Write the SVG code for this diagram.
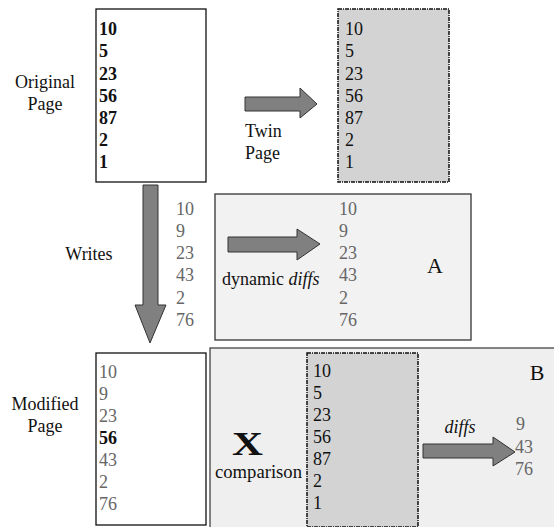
<svg xmlns="http://www.w3.org/2000/svg" width="554" height="527" viewBox="0 0 554 527">
<style>
text{font-family:"Liberation Serif","Times New Roman",serif;font-size:18px;fill:#111}
text.b,.b text{font-weight:bold}
text.g,.g text{fill:#666}
.i{font-style:italic}
.page{fill:#fff;stroke:#111;stroke-width:1.3}
.twin{fill:#d3d3d3;stroke:#111;stroke-width:1.5;stroke-dasharray:4 1 1 1}
.arrow{fill:#808080;stroke:#333;stroke-width:1}
text.big{font-size:22px}
</style>
<rect width="554" height="527" fill="#fff"/>

<g id="regionB">
<rect x="210" y="348" width="346" height="182" fill="#efefef" stroke="#444" stroke-width="1.3"/>
<text x="537" y="380" text-anchor="middle" class="big">B</text>
</g>

<g id="regionA">
<rect x="215" y="194" width="256" height="146" fill="#f2f2f2" stroke="#333" stroke-width="1.3"/>
<text x="435" y="273" text-anchor="middle" class="big">A</text>
<g class="g">
<text x="339" y="215">10</text><text x="339" y="237">9</text><text x="339" y="259">23</text>
<text x="339" y="281">43</text><text x="339" y="304">2</text><text x="339" y="326">76</text>
</g>
<text x="222" y="285">dynamic <tspan class="i">diffs</tspan></text>
</g>

<g id="originalPage">
<rect class="page" x="96" y="9" width="110" height="173"/>
<g class="b">
<text x="99" y="35">10</text><text x="99" y="57">5</text><text x="99" y="80">23</text>
<text x="99" y="102">56</text><text x="99" y="124">87</text><text x="99" y="146">2</text><text x="99" y="168">1</text>
</g>
<text x="45" y="88" text-anchor="middle">Original</text>
<text x="45" y="110" text-anchor="middle">Page</text>
</g>

<g id="twinPage">
<rect class="twin" x="338" y="9" width="111" height="173"/>
<text x="345" y="35">10</text><text x="345" y="57">5</text><text x="345" y="80">23</text>
<text x="345" y="102">56</text><text x="345" y="124">87</text><text x="345" y="146">2</text><text x="345" y="168">1</text>
</g>

<g id="writesNumbers" class="g">
<text x="176" y="215">10</text><text x="176" y="237">9</text><text x="176" y="259">23</text>
<text x="176" y="281">43</text><text x="176" y="304">2</text><text x="176" y="326">76</text>
</g>

<g id="modifiedPage">
<rect class="page" x="96" y="353" width="110" height="172"/>
<text x="99" y="378" class="g">10</text><text x="99" y="400" class="g">9</text><text x="99" y="422" class="g">23</text>
<text x="99" y="444" class="b">56</text><text x="99" y="466" class="g">43</text><text x="99" y="488" class="g">2</text><text x="99" y="510" class="g">76</text>
<text x="45" y="410" text-anchor="middle">Modified</text>
<text x="45" y="432" text-anchor="middle">Page</text>
</g>

<g id="twinPageB">
<rect class="twin" x="307" y="353" width="111" height="174"/>
<text x="313" y="377">10</text><text x="313" y="399">5</text><text x="313" y="421">23</text>
<text x="313" y="443">56</text><text x="313" y="465">87</text><text x="313" y="487">2</text><text x="313" y="509">1</text>
</g>

<g id="comparison">
<text x="232" y="455" class="b" style="font-size:34px" textLength="31" lengthAdjust="spacingAndGlyphs">X</text>
<text x="215" y="478" textLength="87" lengthAdjust="spacingAndGlyphs">comparison</text>
</g>

<g id="diffsOut" class="g">
<text x="516" y="430">9</text><text x="515" y="453">43</text><text x="515" y="475">76</text>
</g>

<g id="connectors">
<polygon class="arrow" points="245,97 300,97 300,88 317,104 300,118 300,111 245,111"/>
<polygon class="arrow" points="143,185 158,185 158,305 166,305 150,343 135,305 143,305"/>
<polygon class="arrow" points="228,237 297,237 297,229 320,244 297,260 297,252 228,252"/>
<polygon class="arrow" points="423,444 493,444 493,437 515,452 493,466 493,458 423,458"/>
<text x="245" y="137">Twin</text>
<text x="245" y="159">Page</text>
<text x="89" y="260" text-anchor="middle">Writes</text>
<text x="460" y="433" text-anchor="middle" class="i">diffs</text>
</g>
</svg>
